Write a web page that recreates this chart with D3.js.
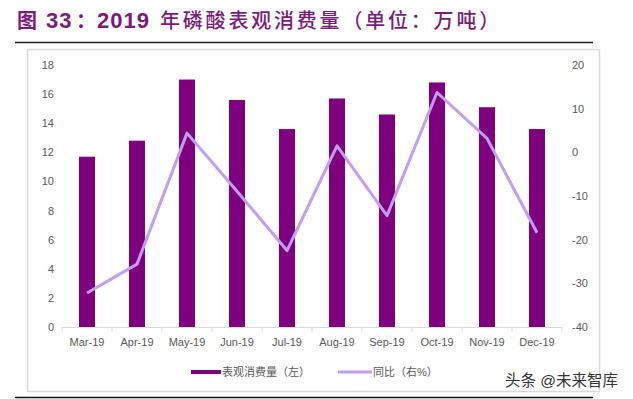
<!DOCTYPE html>
<html>
<head>
<meta charset="utf-8">
<script src="https://cdn.jsdelivr.net/npm/d3@7"></script>
<style>
body{margin:0;background:#fff}
svg text{font-family:"Liberation Sans",Arial,"Noto Sans CJK SC",sans-serif}
</style>
</head>
<body>
<div id="chart"></div>
<script>
// data
var months = ["Mar-19","Apr-19","May-19","Jun-19","Jul-19","Aug-19","Sep-19","Oct-19","Nov-19","Dec-19"]
var consumption = [11.7,12.8,17.0,15.6,13.6,15.7,14.6,16.8,15.1,13.6]
var yoy = [-32.2,-25.6,4.4,-8.9,-22.5,1.5,-14.5,13.7,3.2,-18.4]
var leftTicks = [0,2,4,6,8,10,12,14,16,18]
var rightTicks = [-40,-30,-20,-10,0,10,20]

var W = 633, H = 399
var barColor = "#7f007f", lineColor = "#c29df5", textGrey = "#595959"

var svg = d3.select("#chart").append("svg").attr("width",W).attr("height",H)

// title + rules
var title = svg.append("text").attr("y",28).attr("fill","#7b1a7b")
title.append("tspan").attr("x",17).attr("font-size","20px").attr("font-weight","bold")
	.attr("font-family","Noto Sans CJK SC").text("图")
title.append("tspan").attr("x",46).attr("font-size","22px").attr("font-weight","bold")
	.attr("letter-spacing","1px").text("33")
title.append("tspan").attr("x",76).attr("font-size","20px").attr("font-weight","bold")
	.attr("font-family","Noto Sans CJK SC").text("：")
title.append("tspan").attr("x",97).attr("font-size","22px").attr("font-weight","bold")
	.attr("letter-spacing","1px").text("2019")
title.append("tspan").attr("x",160).attr("font-size","20px").attr("font-weight","500")
	.attr("font-family","Noto Sans CJK SC").attr("letter-spacing","2.8px")
	.text("年磷酸表观消费量（单位：万吨）")
svg.append("line").attr("x1",15).attr("x2",593).attr("y1",42.5).attr("y2",42.5)
	.attr("stroke","#222").attr("stroke-width",1.5)
svg.append("line").attr("x1",15).attr("x2",593).attr("y1",397.5).attr("y2",397.5)
	.attr("stroke","#111").attr("stroke-width",1.5)

// chart frame
svg.append("rect").attr("x",27.5).attr("y",49.5).attr("width",572).attr("height",342)
	.attr("fill","none").attr("stroke","#d9d9d9").attr("stroke-width",1.5)

var xb = d3.scaleBand().domain(months).range([62,562])
var yL = d3.scaleLinear().domain([0,18]).range([327,65])
var yR = d3.scaleLinear().domain([-40,20]).range([327,65])

// bars
svg.append("g").selectAll("rect")
	.data(consumption)
	.enter().append("rect")
	.attr("x",function(d,i){return xb(months[i])+xb.bandwidth()/2-8})
	.attr("width",16)
	.attr("y",function(d){return yL(d)})
	.attr("height",function(d){return yL(0)-yL(d)})
	.attr("fill",barColor)

// x axis
var xAxis = svg.append("g").attr("transform","translate(0,327)")
	.call(d3.axisBottom(xb).tickSize(0).tickPadding(11))
xAxis.select(".domain").attr("stroke","#d9d9d9")
xAxis.selectAll("text").attr("fill",textGrey).attr("font-size","11px")
xAxis.selectAll(".bnd").data(d3.range(months.length+1)).enter().append("line")
	.attr("x1",function(i){return 62+i*xb.step()}).attr("x2",function(i){return 62+i*xb.step()})
	.attr("y1",0).attr("y2",5).attr("stroke","#d9d9d9")

// left axis
var la = svg.append("g").attr("transform","translate(54,0)")
	.call(d3.axisLeft(yL).tickValues(leftTicks).tickSize(0).tickPadding(0))
la.select(".domain").remove()
la.selectAll("text").attr("fill",textGrey).attr("font-size","11px")

// right axis
var ra = svg.append("g").attr("transform","translate(572,0)")
	.call(d3.axisRight(yR).tickValues(rightTicks).tickSize(0).tickPadding(0)
		.tickFormat(function(d){return String(d)}))
ra.select(".domain").remove()
ra.selectAll("text").attr("fill",textGrey).attr("font-size","11px")

// line
var line = d3.line()
	.x(function(d,i){return xb(months[i])+xb.bandwidth()/2})
	.y(function(d){return yR(d)})
svg.append("path").datum(yoy)
	.attr("d",line)
	.attr("fill","none")
	.attr("stroke",lineColor)
	.attr("stroke-width",3)
	.attr("stroke-linejoin","round")

// legend
var legend = svg.append("g")
legend.append("line").attr("x1",191).attr("x2",221).attr("y1",372).attr("y2",372)
	.attr("stroke",barColor).attr("stroke-width",4)
legend.append("text").attr("x",222).attr("y",376).attr("fill",textGrey).attr("font-size","11px")
	.text("表观消费量（左）")
legend.append("line").attr("x1",338).attr("x2",372).attr("y1",372).attr("y2",372)
	.attr("stroke",lineColor).attr("stroke-width",3)
legend.append("text").attr("x",373).attr("y",376).attr("fill",textGrey).attr("font-size","11px")
	.text("同比（右%）")

// watermark
svg.append("text").attr("x",505).attr("y",386).attr("fill","#333").attr("font-size","15.5px")
	.text("头条 @未来智库")
</script>
</body>
</html>
